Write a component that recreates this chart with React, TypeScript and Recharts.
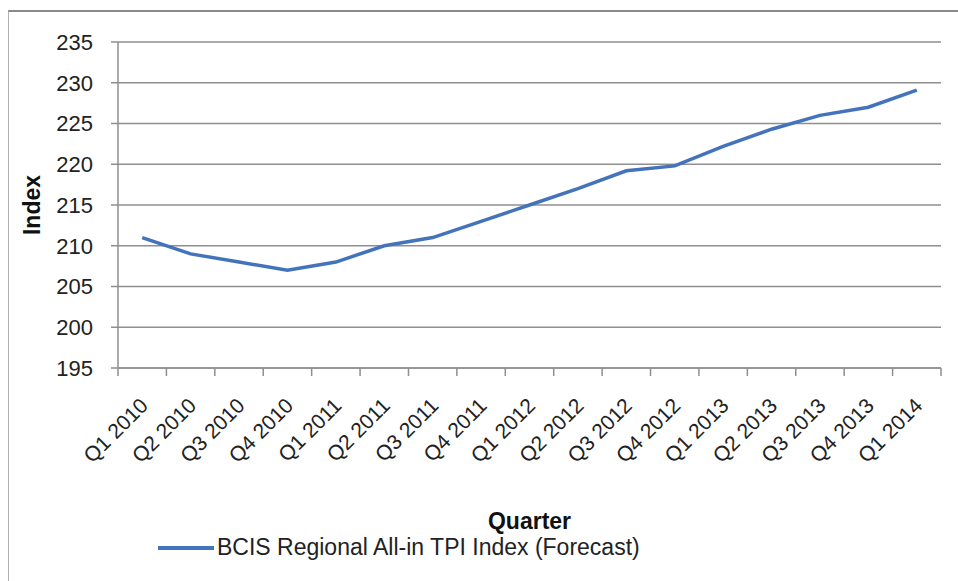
import React from "react";
import { LineChart, Line, XAxis, YAxis, CartesianGrid } from "recharts";

// Quarterly tender price index forecast
const quarters = [
  "Q1 2010", "Q2 2010", "Q3 2010", "Q4 2010",
  "Q1 2011", "Q2 2011", "Q3 2011", "Q4 2011",
  "Q1 2012", "Q2 2012", "Q3 2012", "Q4 2012",
  "Q1 2013", "Q2 2013", "Q3 2013", "Q4 2013",
  "Q1 2014",
];
const tpiIndex = [
  211, 209, 208, 207,
  208, 210, 211, 213,
  215, 217, 219.2, 219.8,
  222.2, 224.3, 226, 227,
  229.1,
];
const yTicks = [195, 200, 205, 210, 215, 220, 225, 230, 235];
const seriesName = "BCIS Regional All-in TPI Index (Forecast)";

const data = quarters.map((q, i) => ({ quarter: q, value: tpiIndex[i] }));

const WIDTH = 958;
const HEIGHT = 581;
const MARGIN = { top: 42, right: 17, left: 0, bottom: 0 };
const Y_AXIS_W = 118;
const X_AXIS_H = 213;
const PLOT_W = WIDTH - MARGIN.left - MARGIN.right - Y_AXIS_W;
const BAND = PLOT_W / quarters.length;

const FONT = "'Liberation Sans', Arial, sans-serif";
const LINE_BLUE = "#4373BA";
const GRID = "#8f8f8f";

// x tick: rotated label plus the tick marks between categories
function QuarterTick(props: any) {
  const { x, y, payload, index } = props;
  const lx = x + 7;
  const ly = y + 39;
  const last = index === quarters.length - 1;
  return (
    <g>
      <line x1={x - BAND / 2} y1={y} x2={x - BAND / 2} y2={y + 8} stroke={GRID} strokeWidth={1.5} />
      {last && (
        <line x1={x + BAND / 2} y1={y} x2={x + BAND / 2} y2={y + 8} stroke={GRID} strokeWidth={1.5} />
      )}
      <text
        x={lx}
        y={ly}
        textAnchor="end"
        transform={`rotate(-45, ${lx}, ${ly})`}
        fontFamily={FONT}
        fontSize={21}
        fill="#222"
      >
        {payload.value}
      </text>
    </g>
  );
}

function IndexLabel(props: any) {
  const { viewBox } = props;
  const cx = 32;
  const cy = viewBox.y + viewBox.height / 2;
  return (
    <text
      x={cx}
      y={cy}
      textAnchor="middle"
      dominantBaseline="central"
      transform={`rotate(-90, ${cx}, ${cy})`}
      fontFamily={FONT}
      fontWeight="bold"
      fontSize={23}
      fill="#111"
    >
      Index
    </text>
  );
}

export default function App() {
  return (
    <div
      style={{
        position: "absolute",
        left: 0,
        top: 0,
        width: WIDTH,
        height: HEIGHT,
        overflow: "hidden",
        background: "#fff",
      }}
    >
      {/* chart frame */}
      <div
        style={{
          position: "absolute",
          left: 8,
          top: 10,
          width: WIDTH,
          height: HEIGHT,
          borderTop: "2px solid #8a8a8a",
          borderLeft: "1px solid #b0b0b0",
        }}
      />
      <div style={{ position: "absolute", left: 0, top: 0 }}>
        <LineChart width={WIDTH} height={HEIGHT} data={data} margin={MARGIN}>
          <CartesianGrid vertical={false} stroke={GRID} strokeWidth={1.5} />
          <XAxis
            dataKey="quarter"
            height={X_AXIS_H}
            interval={0}
            padding={{ left: BAND / 2, right: BAND / 2 }}
            stroke={GRID}
            strokeWidth={1.5}
            tickLine={false}
            tickSize={0}
            tickMargin={0}
            tick={<QuarterTick />}
            label={{
              value: "Quarter",
              position: "insideBottom",
              offset: 52,
              fontFamily: FONT,
              fontWeight: "bold",
              fontSize: 23,
              fill: "#111",
            }}
          />
          <YAxis
            width={Y_AXIS_W}
            domain={[195, 235]}
            ticks={yTicks}
            interval={0}
            stroke={GRID}
            strokeWidth={1.5}
            tickSize={7}
            tickMargin={18}
            tick={{ fontFamily: FONT, fontSize: 22, fill: "#222" }}
            label={<IndexLabel />}
          />
          <Line
            type="linear"
            dataKey="value"
            name={seriesName}
            stroke={LINE_BLUE}
            strokeWidth={3.5}
            dot={false}
            isAnimationActive={false}
          />
        </LineChart>
      </div>
      {/* legend */}
      <div
        style={{
          position: "absolute",
          left: 158,
          top: 534,
          display: "flex",
          alignItems: "center",
          fontFamily: FONT,
          fontSize: 23,
          color: "#222",
          whiteSpace: "nowrap",
        }}
      >
        <span
          style={{
            display: "inline-block",
            width: 56,
            height: 4,
            background: LINE_BLUE,
            marginRight: 3,
          }}
        />
        <span>{seriesName}</span>
      </div>
    </div>
  );
}
